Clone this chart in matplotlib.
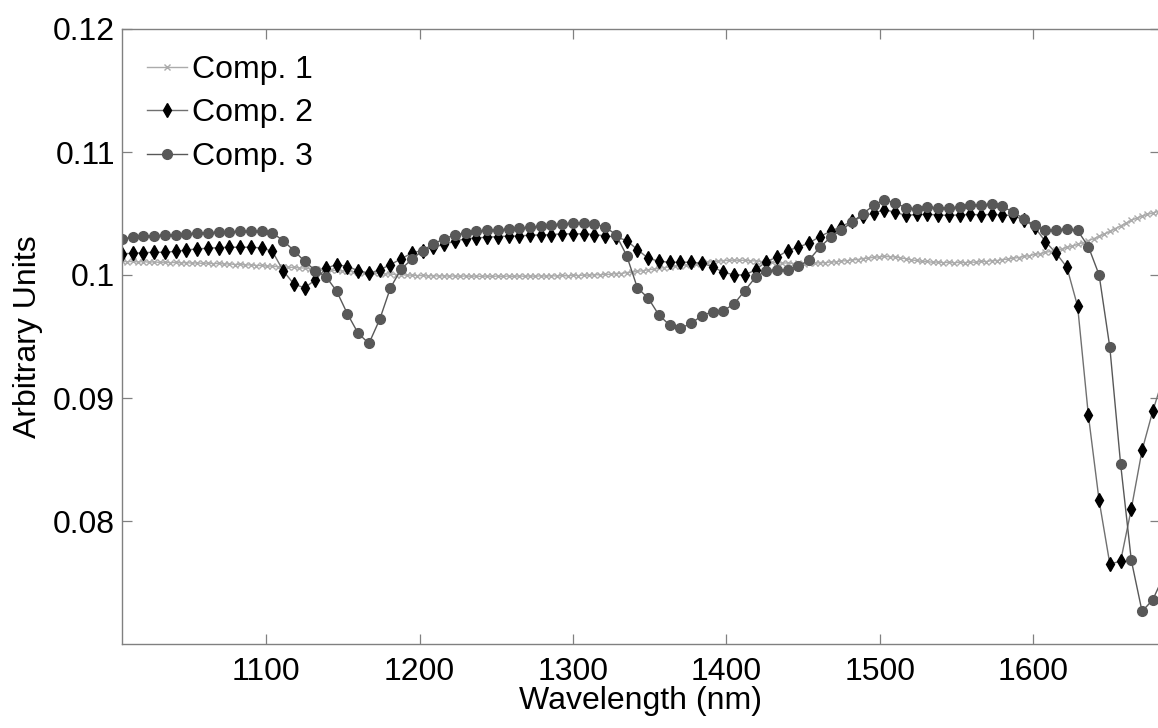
import numpy as np
import matplotlib
matplotlib.use("Agg")
import matplotlib.pyplot as plt
from matplotlib.ticker import FixedLocator, FuncFormatter

plt.rcParams['font.family'] = ['Liberation Sans', 'DejaVu Sans']

# Wavelength grids (nm)
wl_comp1 = np.arange(1006.0, 1686.0, 3.5)   # 195 samples
wl_comp23 = np.arange(1006.0, 1686.0, 7.0)  # 98 samples

comp1 = [
    0.10112, 0.10108, 0.10111, 0.10106, 0.10109, 0.10104, 0.10107, 0.10102, 0.10105, 0.10100,
    0.10103, 0.10098, 0.10101, 0.10096, 0.10099, 0.10094, 0.10097, 0.10092, 0.10094,
    0.10089, 0.10091, 0.10085, 0.10087, 0.10081, 0.10083, 0.10077, 0.10078, 0.10072, 0.10073,
    0.10067, 0.10068, 0.10062, 0.10063, 0.10057, 0.10057, 0.10051, 0.10051, 0.10045,
    0.10044, 0.10038, 0.10037, 0.10032, 0.10031, 0.10026, 0.10025, 0.10020, 0.10019, 0.10014,
    0.10013, 0.10009, 0.10008, 0.10004, 0.10003, 0.09999, 0.09999, 0.09995,
    0.09996, 0.09992, 0.09995, 0.09991, 0.09994, 0.09990, 0.09993, 0.09989, 0.09993, 0.09989,
    0.09992, 0.09988, 0.09992, 0.09988, 0.09992, 0.09988, 0.09992, 0.09988, 0.09993, 0.09989,
    0.09993, 0.09989, 0.09994, 0.09990, 0.09995, 0.09991, 0.09996, 0.09993, 0.09998, 0.09995,
    0.10000, 0.09998, 0.10003, 0.10001, 0.10006,
    0.10005, 0.10012, 0.10012, 0.10020, 0.10022, 0.10031, 0.10034, 0.10043, 0.10047, 0.10055,
    0.10060, 0.10066, 0.10071, 0.10077, 0.10082, 0.10088, 0.10093, 0.10099, 0.10103, 0.10109,
    0.10112, 0.10117, 0.10118, 0.10121, 0.10119,
    0.10120, 0.10115, 0.10115, 0.10109, 0.10108, 0.10102, 0.10102, 0.10097, 0.10098, 0.10093,
    0.10096, 0.10092, 0.10097, 0.10094, 0.10101, 0.10099, 0.10107, 0.10106, 0.10115, 0.10115,
    0.10124, 0.10125, 0.10134, 0.10136, 0.10145, 0.10146, 0.10152, 0.10148, 0.10148, 0.10138,
    0.10133, 0.10122, 0.10118, 0.10110, 0.10110, 0.10103, 0.10106, 0.10100, 0.10104, 0.10099,
    0.10104, 0.10100, 0.10106, 0.10103, 0.10110, 0.10109, 0.10117, 0.10117, 0.10126, 0.10128,
    0.10138, 0.10141, 0.10152, 0.10156, 0.10168, 0.10173, 0.10185, 0.10191, 0.10204, 0.10211,
    0.10225, 0.10233, 0.10250, 0.10262, 0.10280, 0.10295, 0.10315, 0.10333, 0.10355, 0.10376,
    0.10400, 0.10421, 0.10445, 0.10462, 0.10480, 0.10492, 0.10505, 0.10516, 0.10526,
]

comp2 = [
    0.10172, 0.10177, 0.10182, 0.10185, 0.10185, 0.10193, 0.10204, 0.10212, 0.10218, 0.10223,
    0.10226, 0.10226, 0.10226, 0.10220, 0.10193, 0.10036, 0.09927, 0.09895, 0.09960, 0.10055,
    0.10085, 0.10068, 0.10036, 0.10014, 0.10041, 0.10085, 0.10131, 0.10180, 0.10199, 0.10226,
    0.10248, 0.10275, 0.10294, 0.10302,
    0.10307, 0.10313, 0.10316, 0.10318, 0.10324, 0.10326, 0.10329, 0.10335, 0.10335, 0.10335,
    0.10329, 0.10318, 0.10310, 0.10280, 0.10207, 0.10136, 0.10112, 0.10104, 0.10104, 0.10104,
    0.10096, 0.10068, 0.10022, 0.10001, 0.10001, 0.10041, 0.10109, 0.10145, 0.10199, 0.10226,
    0.10261, 0.10313, 0.10356,
    0.10394, 0.10438, 0.10476, 0.10503, 0.10530, 0.10511, 0.10484, 0.10492, 0.10492, 0.10490,
    0.10484, 0.10490, 0.10492, 0.10490, 0.10492, 0.10490, 0.10481, 0.10449, 0.10389, 0.10272,
    0.10177, 0.10063, 0.09745, 0.08860, 0.08167, 0.07651, 0.07672, 0.08099, 0.08574, 0.08895,
    0.09170,
]

comp3 = [
    0.10294, 0.10308, 0.10316, 0.10321, 0.10324, 0.10329, 0.10335, 0.10340, 0.10345, 0.10348,
    0.10351, 0.10354, 0.10354, 0.10354, 0.10343, 0.10280, 0.10199, 0.10112, 0.10036, 0.09987,
    0.09867, 0.09683, 0.09525, 0.09444, 0.09639, 0.09895, 0.10049, 0.10128, 0.10199, 0.10253,
    0.10294, 0.10326, 0.10343, 0.10354,
    0.10362, 0.10367, 0.10373, 0.10381, 0.10389, 0.10397, 0.10408, 0.10416, 0.10422, 0.10422,
    0.10416, 0.10389, 0.10329, 0.10158, 0.09895, 0.09813, 0.09675, 0.09593, 0.09566, 0.09607,
    0.09669, 0.09702, 0.09710, 0.09764, 0.09873, 0.09981, 0.10036, 0.10041, 0.10041, 0.10071,
    0.10123, 0.10226, 0.10307,
    0.10367, 0.10430, 0.10498, 0.10566, 0.10612, 0.10585, 0.10547, 0.10538, 0.10552, 0.10547,
    0.10547, 0.10552, 0.10568, 0.10568, 0.10579, 0.10557, 0.10511, 0.10457, 0.10403, 0.10362,
    0.10367, 0.10375, 0.10362, 0.10231, 0.10001, 0.09411, 0.08466, 0.07680, 0.07265, 0.07360,
    0.07550,
]

labels = ['Comp. 1', 'Comp. 2', 'Comp. 3']
x_ticks = [1100, 1200, 1300, 1400, 1500, 1600]
y_ticks = [0.08, 0.09, 0.10, 0.11, 0.12]

FS = 23
W, H = 1158, 728
fig = plt.figure(figsize=(W / 100, H / 100), dpi=100)
ax = fig.add_axes([122 / W, (H - 644) / H, (1160 - 122) / W, (644 - 29) / H])

ax.plot(wl_comp1, comp1, color='#ababab', lw=1.0, marker='x', ms=4.5, mew=1.0,
        label=labels[0])
ax.plot(wl_comp23, comp2, color='#707070', lw=1.0, marker='d', ms=7,
        mfc='black', mec='black', label=labels[1])
ax.plot(wl_comp23, comp3, color='#585858', lw=1.0, marker='o', ms=7,
        mfc='#585858', mec='#585858', label=labels[2])

ax.set_xlim(1006, 1682.7)
ax.set_ylim(0.07, 0.12)
ax.xaxis.set_major_locator(FixedLocator(x_ticks))
ax.yaxis.set_major_locator(FixedLocator(y_ticks))
ax.yaxis.set_major_formatter(FuncFormatter(lambda v, p: f"{v:g}"))

for s in ax.spines.values():
    s.set_color('#808080')
    s.set_linewidth(1.0)
ax.tick_params(direction='in', length=7, width=0.9, color='#808080',
               labelcolor='black', labelsize=FS, top=True, right=True)
ax.tick_params(axis='x', pad=9)
ax.tick_params(axis='y', pad=5)

ax.set_xlabel('Wavelength (nm)', fontsize=FS, labelpad=0)
ax.set_ylabel('Arbitrary Units', fontsize=FS, labelpad=7)

ax.legend(loc='upper left', bbox_to_anchor=(0.0175, 0.968), frameon=False,
          fontsize=FS, handlelength=1.28, handletextpad=0.15, labelspacing=0.42,
          borderpad=0.2, borderaxespad=0)

fig.savefig('out.png', dpi=100)
